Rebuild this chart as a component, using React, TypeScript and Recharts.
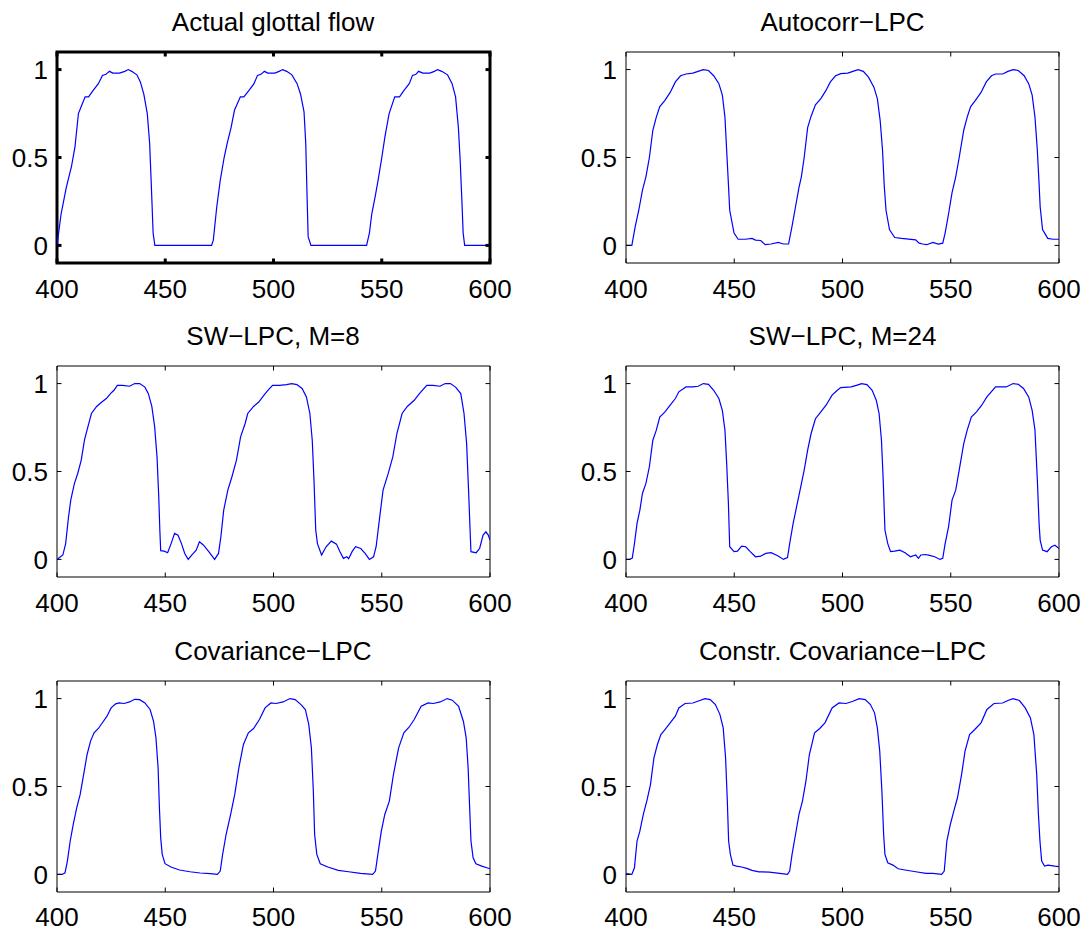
import React from 'react';
import { LineChart, Line, XAxis, YAxis, ReferenceArea } from 'recharts';

const xTicks = [400, 450, 500, 550, 600];
const yTicks = [0, 0.5, 1];
const titles = [
  'Actual glottal flow',
  'Autocorr\u2212LPC',
  'SW\u2212LPC, M=8',
  'SW\u2212LPC, M=24',
  'Covariance\u2212LPC',
  'Constr. Covariance\u2212LPC',
];

const actualFlow: number[][] = [
  [400, 0], [401.9, 0.18], [404.3, 0.33], [406.7, 0.45], [408.3, 0.56], [409.9, 0.75], [411.5, 0.8], [413, 0.845], [414.6, 0.845], [416.2, 0.873],
  [419.1, 0.92], [421, 0.967], [422.6, 0.973], [424.2, 0.99], [425.8, 0.98], [428.9, 0.98], [431.3, 0.99], [432.9, 1], [434.5, 0.99], [436.9, 0.97],
  [438.5, 0.93], [440.1, 0.86], [441.7, 0.75], [442.8, 0.58], [443.6, 0.33], [444.4, 0.07], [445.2, 0], [471.4, 0], [472.2, 0.03], [473.8, 0.22],
  [475.4, 0.37], [477.2, 0.5], [478.6, 0.58], [480.4, 0.67], [482, 0.77], [484.7, 0.845], [486.3, 0.845], [488.6, 0.88], [491, 0.92], [492.6, 0.967],
  [494.2, 0.973], [495.8, 0.99], [497.4, 0.98], [500.6, 0.98], [502.6, 0.99], [504.2, 1], [506.1, 0.99], [508.5, 0.97], [510.9, 0.92], [512.5, 0.86],
  [514.1, 0.76], [514.9, 0.58], [515.4, 0.33], [516, 0.05], [517.3, 0], [543, 0], [544.3, 0.07], [545.4, 0.18], [547, 0.28], [548.3, 0.37],
  [549.9, 0.49], [551.5, 0.62], [553.4, 0.75], [556, 0.845], [558.2, 0.845], [560.2, 0.88], [562.7, 0.92], [564.2, 0.967], [565.8, 0.973], [567, 0.99],
  [569, 0.98], [572.2, 0.98], [574.3, 0.99], [575.8, 1], [577.7, 0.99], [580.4, 0.97], [582.5, 0.92], [584.1, 0.845], [585.4, 0.67], [586.2, 0.49],
  [587, 0.26], [587.6, 0.07], [588.3, 0], [600, 0],
];

const autocorrLpc: number[][] = [
  [400, 0], [402.7, 0], [404.3, 0.11], [405.9, 0.2], [407.6, 0.315], [409.2, 0.39], [410.8, 0.5], [412.4, 0.655], [414, 0.73], [415.6, 0.79],
  [418, 0.825], [420.4, 0.87], [422.8, 0.93], [425.2, 0.965], [427.7, 0.975], [430.9, 0.98], [433.3, 0.99], [435.7, 1], [438.1, 0.995], [440.5, 0.965],
  [442.9, 0.92], [444.5, 0.855], [445.7, 0.73], [446.5, 0.54], [447.3, 0.35], [447.9, 0.2], [448.9, 0.135], [449.9, 0.07], [451.8, 0.035], [455, 0.035],
  [458.2, 0.04], [459.8, 0.03], [462.2, 0.028], [464.3, 0.004], [467, 0.008], [470.3, 0.017], [472.7, 0.008], [475.1, 0.008], [476.7, 0.11], [478.3, 0.22],
  [479.9, 0.33], [481, 0.39], [482.3, 0.5], [483.9, 0.67], [485.5, 0.735], [487.5, 0.8], [490, 0.835], [492.3, 0.88], [494.4, 0.93], [496.8, 0.965],
  [499.2, 0.977], [502.4, 0.98], [504.8, 0.99], [507.2, 1], [509.6, 0.99], [512, 0.957], [514.5, 0.9], [516.1, 0.835], [517.4, 0.71], [518.5, 0.54],
  [519.3, 0.335], [520.1, 0.2], [521.7, 0.09], [524.1, 0.045], [527.3, 0.04], [530.5, 0.036], [533.8, 0.032], [535.4, 0.013], [537, 0.008], [538.9, 0.004],
  [541.8, 0.017], [544.2, 0.008], [546.3, 0.013], [547.4, 0.07], [549, 0.18], [550.6, 0.3], [552.3, 0.39], [553.9, 0.5], [556, 0.655], [557.6, 0.73],
  [559.2, 0.79], [561.4, 0.825], [564, 0.87], [566.4, 0.93], [568.8, 0.965], [570.7, 0.975], [574, 0.975], [576.4, 0.99], [578.8, 1], [581.2, 0.995],
  [583.9, 0.965], [586, 0.92], [587.6, 0.855], [588.9, 0.73], [590, 0.54], [590.8, 0.35], [591.3, 0.22], [592.4, 0.09], [594.8, 0.04], [597.3, 0.035],
  [600, 0.035],
];

const swLpcM8: number[][] = [
  [400, 0], [401.6, 0.015], [402.7, 0.025], [404, 0.09], [405.3, 0.24], [406.4, 0.34], [408, 0.43], [409.6, 0.49], [411.2, 0.565], [412.7, 0.68],
  [414.3, 0.755], [415.9, 0.83], [418.3, 0.87], [420.7, 0.895], [422.8, 0.915], [424.7, 0.943], [426.3, 0.962], [427.9, 0.99], [430.3, 0.99], [433.5, 0.985],
  [435.9, 1], [438.2, 1], [440.6, 0.98], [442.2, 0.943], [443.8, 0.87], [445.1, 0.755], [446.2, 0.583], [447, 0.356], [447.5, 0.167], [447.9, 0.05],
  [449.5, 0.047], [451.1, 0.038], [452.7, 0.09], [454.3, 0.148], [455.9, 0.138], [457.5, 0.09], [459, 0.034], [460.6, 0], [462.2, 0.025], [464.3, 0.053],
  [465.8, 0.1], [467.7, 0.081], [470.1, 0.044], [472.8, 0], [474.6, 0.034], [475.7, 0.129], [477, 0.28], [478.9, 0.394], [480.8, 0.47], [482.9, 0.565],
  [484.8, 0.697], [486.9, 0.773], [488.1, 0.83], [490.8, 0.87], [493.2, 0.895], [495.6, 0.934], [497.7, 0.966], [499.6, 0.99], [502.8, 0.99], [506, 0.994],
  [508.4, 1], [510.8, 0.994], [513.2, 0.972], [515.2, 0.924], [516.8, 0.83], [517.9, 0.678], [518.7, 0.451], [519.5, 0.167], [520.3, 0.09], [522.2, 0.025],
  [524.3, 0.072], [526.7, 0.104], [529.1, 0.087], [530.7, 0.044], [532.3, 0.006], [533.9, 0.015], [534.7, 0.004], [536.3, 0.044], [537.9, 0.072], [540.3, 0.062],
  [542.3, 0.034], [544.3, 0], [546.2, 0.015], [547.4, 0.072], [548.7, 0.205], [550.6, 0.394], [553, 0.489], [555.1, 0.583], [557, 0.716], [559.4, 0.83],
  [561.8, 0.87], [565, 0.905], [567.4, 0.943], [570.8, 0.99], [573.7, 0.99], [576.9, 0.985], [579.3, 1], [581.7, 1], [584.1, 0.98], [586.5, 0.943],
  [588, 0.83], [589.2, 0.66], [590.1, 0.394], [590.8, 0.167], [591.2, 0.044], [593.6, 0.038], [595.2, 0.062], [596.8, 0.138], [598.1, 0.157], [599.2, 0.138],
  [600, 0.11],
];

const swLpcM24: number[][] = [
  [400, 0], [401.6, 0], [402.9, 0.008], [403.9, 0.09], [405.1, 0.205], [406.4, 0.28], [407.6, 0.375], [409.2, 0.432], [410.8, 0.527], [412.4, 0.678],
  [414, 0.735], [415.6, 0.81], [418, 0.839], [420.4, 0.877], [422.8, 0.915], [424.4, 0.953], [427.7, 0.981], [430.9, 0.981], [433.3, 0.985], [435.7, 1],
  [438.1, 0.996], [440.5, 0.962], [442.9, 0.915], [444.5, 0.848], [445.7, 0.735], [446.5, 0.545], [447.3, 0.318], [447.9, 0.072], [449.9, 0.044], [451.5, 0.047],
  [453.4, 0.076], [455.3, 0.072], [457.4, 0.044], [459.8, 0.015], [462.2, 0.019], [464.6, 0.034], [467, 0.038], [470.3, 0.019], [472.7, 0], [474.6, 0.011],
  [475.6, 0.09], [477.2, 0.205], [478.8, 0.3], [480.4, 0.394], [482.3, 0.508], [483.9, 0.621], [485.5, 0.716], [487.5, 0.8], [490, 0.839], [492.4, 0.877],
  [495.2, 0.934], [497.6, 0.962], [499.2, 0.977], [504, 0.981], [506.4, 0.99], [508.8, 1], [511.3, 0.994], [513.7, 0.962], [515.6, 0.905], [516.9, 0.83],
  [518, 0.678], [518.8, 0.451], [519.6, 0.167], [520.9, 0.09], [522.2, 0.044], [524.1, 0.047], [526.5, 0.053], [528.9, 0.038], [531.4, 0.015], [533.8, 0.025],
  [535.1, 0.006], [536.2, 0.025], [538.3, 0.028], [540.2, 0.023], [542.6, 0.015], [545, 0], [546.3, 0.006], [547.4, 0.09], [549, 0.186], [550.6, 0.337],
  [552.3, 0.394], [553.9, 0.508], [556, 0.659], [557.6, 0.735], [559.5, 0.81], [561.9, 0.839], [564.3, 0.877], [566.7, 0.924], [570.7, 0.981], [575.6, 0.981],
  [578.8, 1], [581.2, 0.996], [583.6, 0.972], [586, 0.924], [587.6, 0.848], [588.9, 0.735], [590, 0.451], [590.8, 0.205], [591.3, 0.11], [592.4, 0.053],
  [594.5, 0.044], [596.5, 0.072], [598.1, 0.081], [600, 0.0625],
];

const covarianceLpc: number[][] = [
  [400, 0], [402.4, 0], [403.7, 0.009], [404.8, 0.076], [406.1, 0.19], [407.5, 0.284], [409.1, 0.379], [410.7, 0.455], [412.3, 0.568], [413.9, 0.682],
  [415.5, 0.758], [417.1, 0.805], [419.1, 0.83], [421.2, 0.867], [423.1, 0.9], [425, 0.947], [427.1, 0.97], [428.7, 0.975], [431, 0.972], [433.5, 0.981],
  [435.9, 0.996], [438.2, 0.994], [440.6, 0.975], [443, 0.938], [444.6, 0.871], [445.7, 0.777], [446.7, 0.606], [447.3, 0.379], [447.9, 0.208], [448.6, 0.114],
  [449.9, 0.061], [452.6, 0.042], [456.6, 0.025], [461.4, 0.015], [466.1, 0.008], [470.9, 0.004], [474.1, 0], [475.4, 0.019], [476.5, 0.114], [478.1, 0.227],
  [480.2, 0.341], [482.1, 0.455], [484, 0.606], [486.1, 0.739], [488.4, 0.805], [490.8, 0.83], [493.5, 0.881], [496.1, 0.947], [498.8, 0.975], [501.2, 0.972],
  [504.4, 0.981], [507.6, 1], [510, 0.994], [512.7, 0.966], [514.7, 0.938], [516.3, 0.852], [517.5, 0.72], [518.4, 0.473], [519, 0.227], [520, 0.114],
  [521.6, 0.061], [525.1, 0.042], [529.9, 0.023], [534.7, 0.015], [540.2, 0.006], [545.8, 0], [547.1, 0.019], [548.2, 0.114], [549.8, 0.246], [551.4, 0.341],
  [553.5, 0.417], [555.4, 0.568], [557.8, 0.72], [560.2, 0.805], [562.6, 0.837], [565, 0.881], [568.2, 0.956], [571.4, 0.975], [573.8, 0.972], [577, 0.981],
  [580.2, 1], [582.6, 0.991], [585.5, 0.956], [587.7, 0.871], [589, 0.777], [589.9, 0.606], [590.6, 0.379], [591.2, 0.19], [592.2, 0.095], [593.5, 0.061],
  [596.2, 0.047], [600, 0.032],
];

const constrCovLpc: number[][] = [
  [400, 0.004], [402.7, 0], [403.9, 0.038], [405.1, 0.19], [406.4, 0.246], [408, 0.341], [409.6, 0.417], [411.3, 0.511], [412.9, 0.663], [414.5, 0.739],
  [416.1, 0.795], [418, 0.824], [420.4, 0.862], [422.8, 0.9], [424.4, 0.947], [427.3, 0.972], [430.9, 0.975], [434.1, 0.989], [436.5, 1], [438.9, 0.994],
  [441.3, 0.966], [443.4, 0.909], [444.9, 0.833], [446, 0.663], [446.8, 0.417], [447.4, 0.19], [448.2, 0.114], [449.4, 0.053], [451, 0.047], [453.4, 0.042],
  [455.8, 0.034], [458.2, 0.023], [461.4, 0.015], [466.2, 0.013], [471, 0.006], [474.6, 0], [475.6, 0.019], [476.7, 0.114], [478.3, 0.227], [479.9, 0.341],
  [481.5, 0.417], [483.1, 0.53], [484.7, 0.682], [487.1, 0.805], [489.5, 0.83], [491.9, 0.862], [495.2, 0.947], [498.4, 0.975], [501.6, 0.972], [504.8, 0.985],
  [507.7, 1], [510.5, 0.994], [512.9, 0.966], [514.8, 0.919], [516.1, 0.833], [517.2, 0.701], [518.2, 0.473], [519, 0.227], [519.6, 0.114], [520.9, 0.066],
  [523.3, 0.053], [525.7, 0.032], [528.9, 0.025], [533.8, 0.015], [538.6, 0.006], [541.8, 0.006], [545.8, 0], [547, 0.019], [548.2, 0.19], [549.8, 0.284],
  [551.4, 0.36], [553.1, 0.436], [555, 0.568], [556.6, 0.701], [558.7, 0.795], [561.1, 0.824], [564, 0.862], [566.7, 0.938], [570, 0.972], [574, 0.975],
  [576.4, 0.989], [578.8, 1], [581.7, 0.989], [584.4, 0.947], [586.8, 0.89], [588.4, 0.795], [589.7, 0.568], [590.5, 0.341], [591.2, 0.19], [592, 0.076],
  [593.3, 0.047], [594.9, 0.053], [598.1, 0.047], [600, 0.044],
];

const panelSeries = [actualFlow, autocorrLpc, swLpcM8, swLpcM24, covarianceLpc, constrCovLpc];

const FONT = '"Liberation Sans", Arial, Helvetica, sans-serif';
const FS = 26;
const PLOT_W = 433;
const PLOT_H = 211;
const LEFT_W = 56;
const TOP_M = 50;
const BOTTOM_H = 46;
const RIGHT_M = 26;
const TICK_LEN = 4.5;
const colLeft = [56.5, 626];
const rowTop = [51.5, 365.5, 681];
const rowLabelGap = [35, 35, 33.5];

// chart-internal plot edges
const P_TOP = TOP_M;
const P_BOTTOM = TOP_M + PLOT_H;
const P_LEFT = LEFT_W;
const P_RIGHT = LEFT_W + PLOT_W;

type PanelProps = { series: number[][]; left: number; top: number; thick: boolean; labelGap: number };

function Panel({ series, left, top, thick, labelGap }: PanelProps) {
  const data = series.map(([x, y]) => ({ x, y }));
  const lw = thick ? 3 : 1;

  const renderXTick = (props: any) => {
    const { x, payload } = props;
    const cx = typeof payload?.coordinate === 'number' ? payload.coordinate : x;
    return (
      <g>
        <line x1={cx} x2={cx} y1={P_BOTTOM} y2={P_BOTTOM - TICK_LEN} stroke="#000" strokeWidth={lw} />
        <line x1={cx} x2={cx} y1={P_TOP} y2={P_TOP + TICK_LEN} stroke="#000" strokeWidth={lw} />
        <text x={cx} y={P_BOTTOM + labelGap} textAnchor="middle" fontSize={FS} fontFamily={FONT} fill="#000">
          {payload.value}
        </text>
      </g>
    );
  };

  const renderYTick = (props: any) => {
    const { y, payload } = props;
    const cy = typeof payload?.coordinate === 'number' ? payload.coordinate : y;
    return (
      <g>
        <line x1={P_LEFT} x2={P_LEFT + TICK_LEN} y1={cy} y2={cy} stroke="#000" strokeWidth={lw} />
        <line x1={P_RIGHT} x2={P_RIGHT - TICK_LEN} y1={cy} y2={cy} stroke="#000" strokeWidth={lw} />
        <text x={P_LEFT - 9} y={cy + 9.2} textAnchor="end" fontSize={FS} fontFamily={FONT} fill="#000">
          {payload.value}
        </text>
      </g>
    );
  };

  return (
    <div style={{ position: 'absolute', left: left - LEFT_W, top: top - TOP_M }}>
      <LineChart
        width={LEFT_W + PLOT_W + RIGHT_M}
        height={TOP_M + PLOT_H + BOTTOM_H}
        data={data}
        margin={{ top: TOP_M, right: RIGHT_M, bottom: 0, left: 0 }}
      >
        <XAxis
          xAxisId="b"
          dataKey="x"
          type="number"
          domain={[400, 600]}
          ticks={xTicks}
          interval={0}
          allowDataOverflow
          height={BOTTOM_H}
          axisLine={false}
          tickLine={false}
          tick={renderXTick}
        />
        <YAxis
          yAxisId="l"
          dataKey="y"
          type="number"
          domain={[-0.1, 1.1]}
          ticks={yTicks}
          interval={0}
          allowDataOverflow
          width={LEFT_W}
          axisLine={false}
          tickLine={false}
          tick={renderYTick}
        />
        <Line
          xAxisId="b"
          yAxisId="l"
          dataKey="y"
          type="linear"
          stroke="#0000ff"
          strokeWidth={1.2}
          dot={false}
          activeDot={false}
          isAnimationActive={false}
        />
        <ReferenceArea
          xAxisId="b"
          yAxisId="l"
          x1={400}
          x2={600}
          y1={-0.1}
          y2={1.1}
          fill="none"
          fillOpacity={0}
          stroke="#000"
          strokeWidth={lw}
          ifOverflow="visible"
        />
      </LineChart>
    </div>
  );
}

export default function App() {
  return (
    <div
      style={{
        position: 'absolute',
        left: 0,
        top: 0,
        width: 1085,
        height: 931,
        overflow: 'hidden',
        background: '#fff',
      }}
    >
      {panelSeries.map((s, i) => (
        <Panel
          key={i}
          series={s}
          left={colLeft[i % 2]}
          top={rowTop[Math.floor(i / 2)]}
          thick={i === 0}
          labelGap={rowLabelGap[Math.floor(i / 2)]}
        />
      ))}
      <svg
        width={1085}
        height={931}
        style={{ position: 'absolute', left: 0, top: 0, pointerEvents: 'none' }}
      >
        {titles.map((t, i) => (
          <text
            key={i}
            x={colLeft[i % 2] + PLOT_W / 2}
            y={rowTop[Math.floor(i / 2)] - 21}
            textAnchor="middle"
            fontSize={FS}
            fontFamily={FONT}
            fill="#000"
          >
            {t}
          </text>
        ))}
      </svg>
    </div>
  );
}
